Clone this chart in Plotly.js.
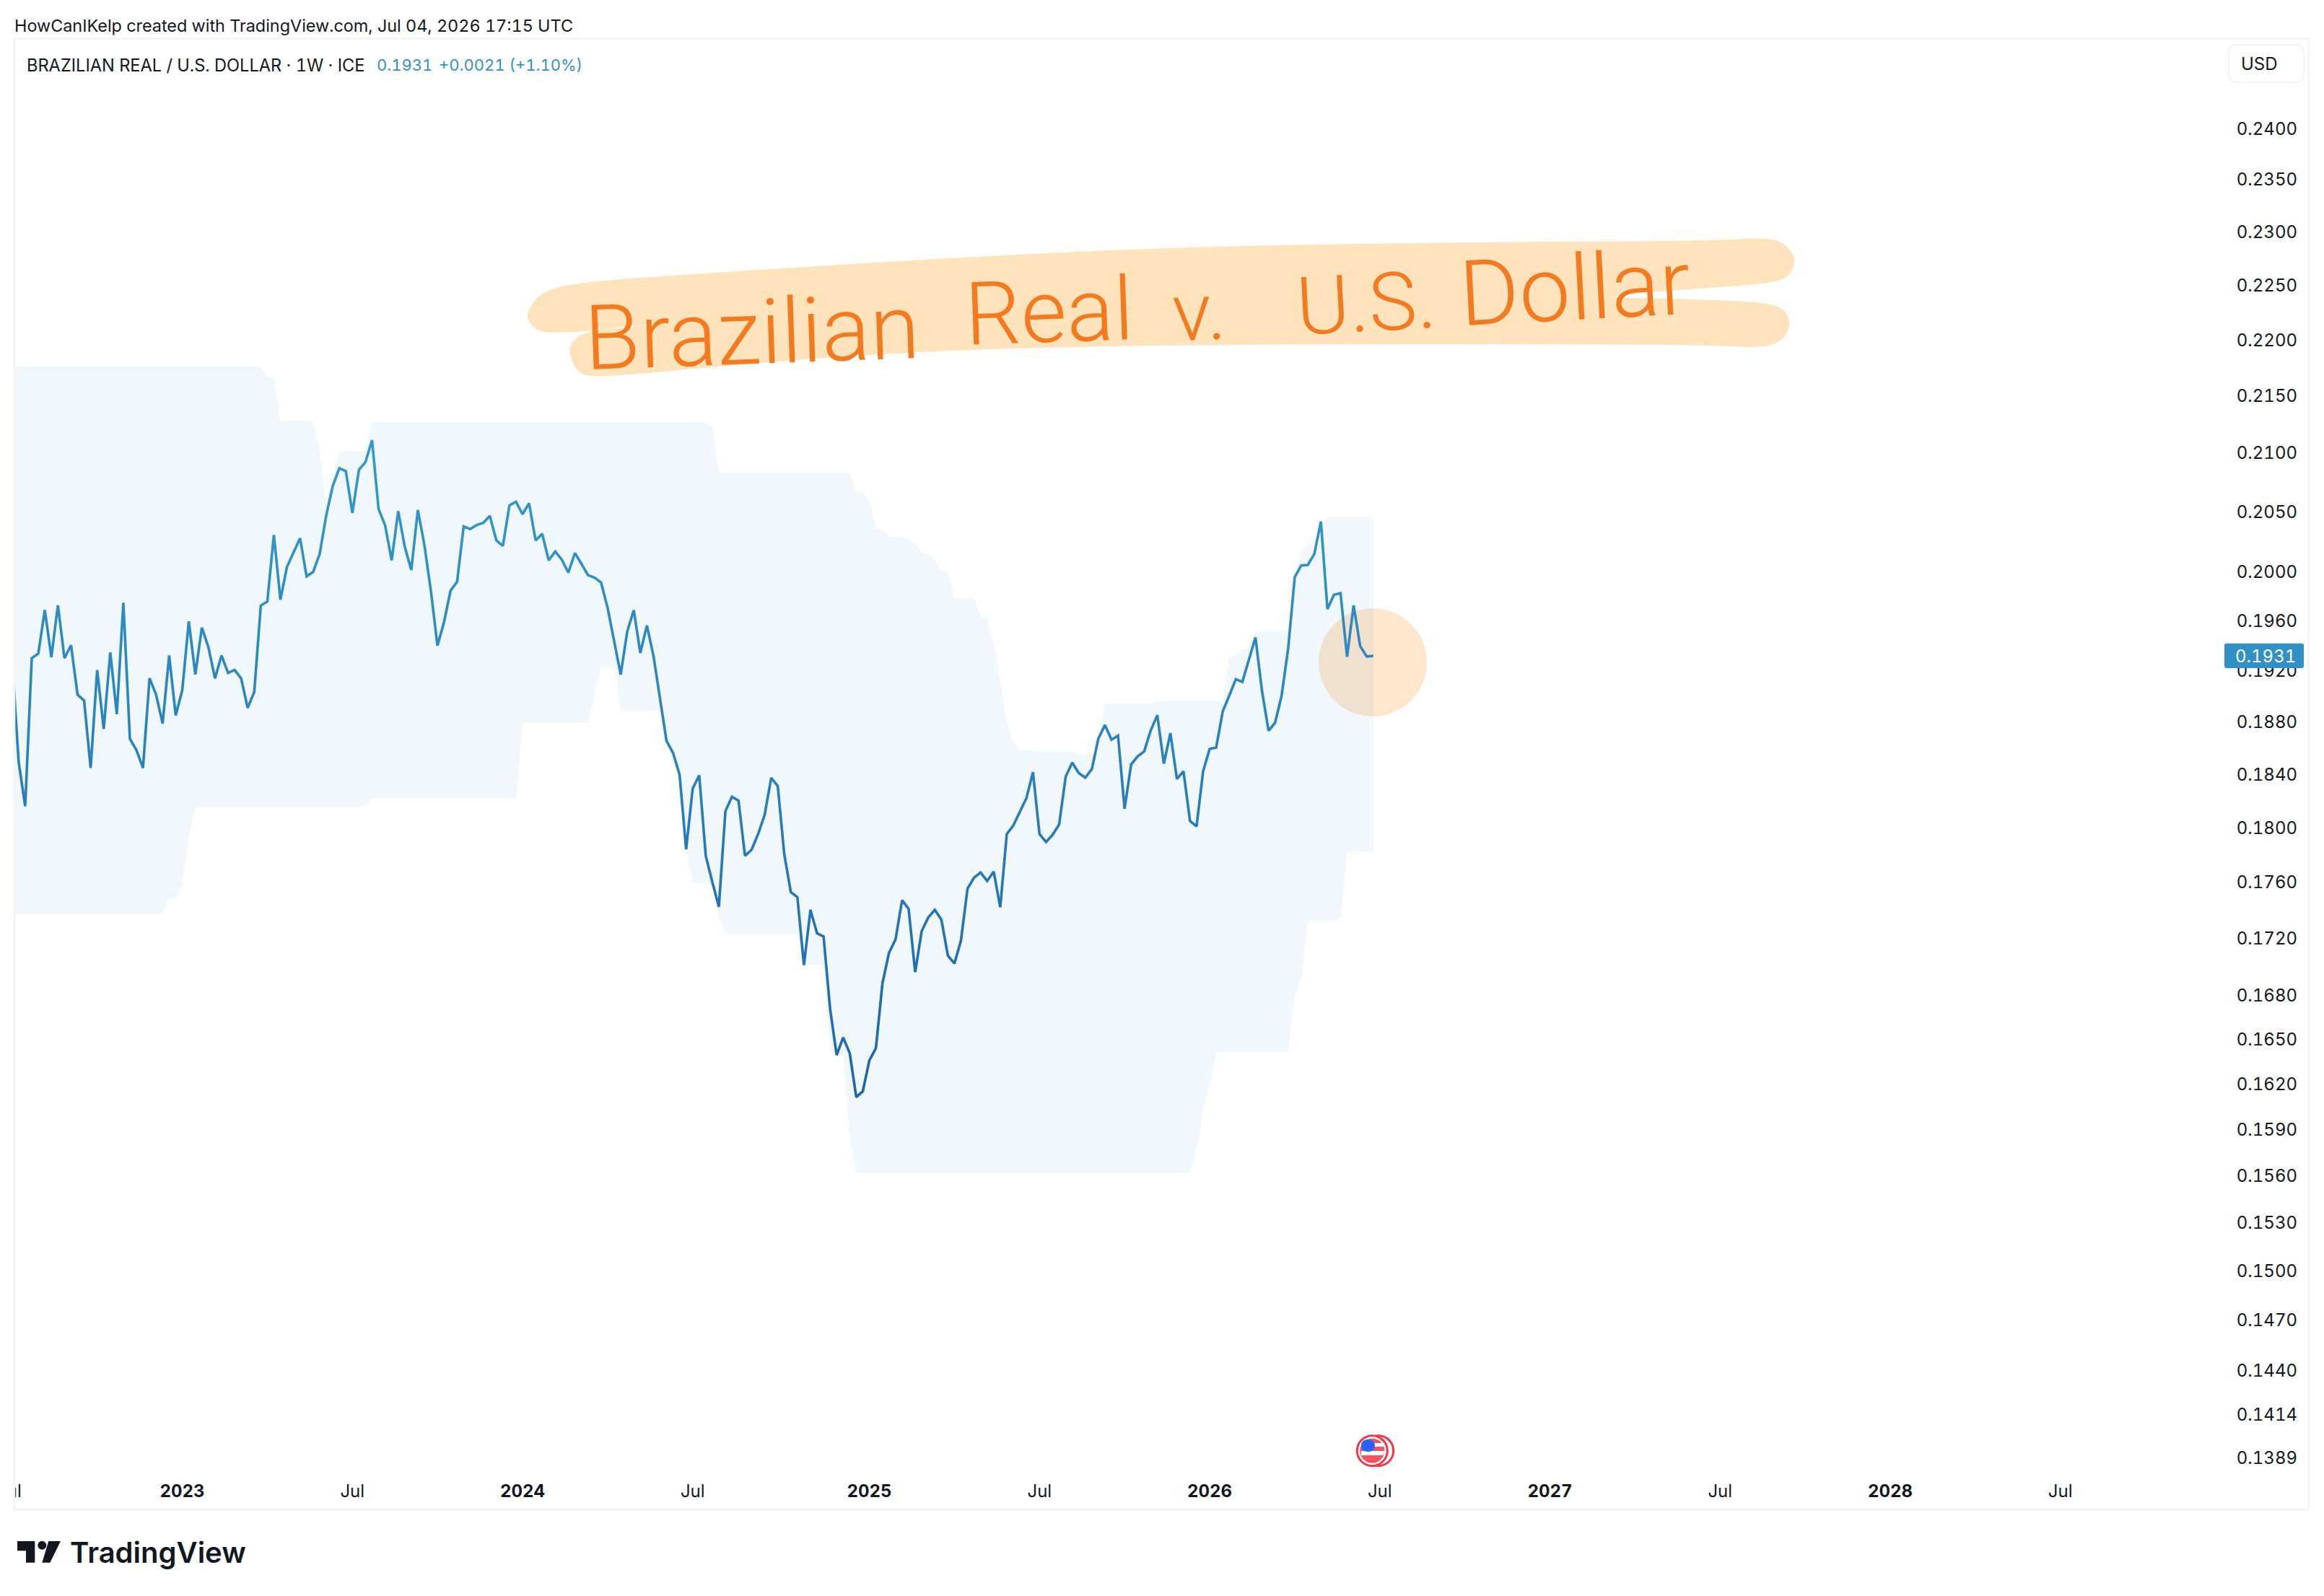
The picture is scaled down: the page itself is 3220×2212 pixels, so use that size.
<!DOCTYPE html>
<html><head><meta charset="utf-8">
<script src="https://cdn.plot.ly/plotly-3.0.1.min.js"></script>
<style>html,body{margin:0;padding:0;background:#fff}#c{width:3220px;height:2212px}
svg text{font-variant-numeric:tabular-nums;font-feature-settings:'tnum' 1}
.yaxislayer-above{transform:translateY(1.5px)}</style>
</head><body><div id="c"></div>
<script>
const firstWeek = '2022-07-04';
const closes = [0.19284,
0.18486,0.18152,0.19292,0.19329,0.19679,0.19300,0.19717,0.19292,0.19396,0.19005,0.18959,0.18441,0.19199,0.18739,0.19338,0.18853,0.19738,0.18663,0.18576,0.18441,
0.19135,0.19005,0.18780,0.19314,0.18844,0.19040,0.19587,0.19164,0.19537,0.19379,0.19133,0.19314,0.19176,0.19199,0.19133,0.18902,0.19026,0.19715,0.19747,0.20296,
0.19762,0.20030,0.20152,0.20269,0.19953,0.19989,0.20137,0.20459,0.20709,0.20860,0.20835,0.20480,0.20848,0.20914,0.21103,0.20514,0.20376,0.20085,0.20495,0.20198,
0.20005,0.20505,0.20213,0.19833,0.19393,0.19581,0.19836,0.19908,0.20367,0.20345,0.20379,0.20397,0.20456,0.20250,0.20205,
0.20545,0.20575,0.20469,0.20562,0.20250,0.20305,0.20085,0.20158,0.20090,0.19984,0.20145,0.20056,0.19963,0.19942,0.19902,0.19697,0.19423,0.19163,0.19506,0.19677,
0.19334,0.19554,0.19314,0.18984,0.18647,0.18555,0.18389,0.17834,0.18285,0.18385,0.17786,0.17595,0.17417,0.18115,0.18223,0.18194,0.17786,0.17830,0.17946,0.18089,
0.18366,0.18304,0.17797,0.17522,0.17486,0.17004,0.17395,0.17228,0.17206,0.16701,0.16386,0.16505,0.16399,0.16105,0.16144,0.16351,0.16433,0.16877,0.17090,0.17185,
0.17464,0.17402,0.16955,0.17243,0.17341,0.17395,0.17326,0.17071,0.17015,0.17178,0.17548,0.17627,
0.17664,0.17603,0.17671,0.17413,0.17946,0.18010,0.18113,0.18213,0.18409,0.17946,0.17887,0.17940,0.18017,0.18374,0.18481,0.18402,0.18367,0.18432,0.18666,0.18769,
0.18656,0.18687,0.18133,0.18467,0.18529,0.18567,0.18728,0.18846,0.18474,0.18707,0.18357,0.18415,0.18043,0.18003,0.18415,0.18585,0.18597,0.18875,0.18998,0.19126,
0.19105,0.19282,0.19458,0.19034,0.18725,0.18787,0.18998,0.19370,0.19946,0.20043,0.20047,0.20138,0.20408,0.19686,0.19803,0.19815,0.19303,0.19716,0.19389,0.19306,0.19310];

const upperWeek = [0,38,39,40,41,46,47,48,49,50,54,55,106,107,108,128,129,130,131,132,133,134,136,138,139,140,141,142,143,144,147,148,149,150,151,152,153,154,156,157,162,163,166,167,174,175,185,186,187,188,189,190,195,196,197,198,199,200,201,208];
const upperVal = [0.21753,0.21753,0.21655,0.21655,0.21274,0.21274,0.21009,0.20553,0.20739,0.21003,0.21003,0.21255,0.21255,0.21211,0.20819,0.20819,0.20653,0.20653,0.20575,0.20356,0.20335,0.20280,0.20280,0.20234,0.20145,0.20142,0.20082,0.19993,0.19993,0.19771,0.19771,0.19625,0.19625,0.19407,0.19122,0.18787,0.18632,0.18572,0.18572,0.18561,0.18561,0.18546,0.18546,0.18935,0.18935,0.18955,0.18955,0.19313,0.19313,0.19363,0.19370,0.19505,0.19505,0.19946,0.20168,0.20207,0.20207,0.20407,0.20446,0.20446];
const lowerWeek = [0,23,24,25,26,27,28,53,54,55,77,78,88,90,92,93,99,100,101,102,103,104,107,108,109,120,121,124,125,126,127,128,129,180,181,182,183,184,195,196,197,198,201,203,204,208];
const lowerVal = [0.17367,0.17367,0.17480,0.17480,0.17579,0.17934,0.18147,0.18147,0.18158,0.18214,0.18214,0.18786,0.18786,0.19227,0.19227,0.18877,0.18877,0.18640,0.18547,0.18381,0.17834,0.17587,0.17587,0.17341,0.17224,0.17224,0.17004,0.17004,0.16427,0.16399,0.16375,0.15840,0.15610,0.15610,0.15752,0.16033,0.16180,0.16404,0.16404,0.16793,0.16919,0.17315,0.17315,0.17331,0.17816,0.17816];

const priceTicks = [0.2400,0.2350,0.2300,0.2250,0.2200,0.2150,0.2100,0.2050,0.2000,0.1960,0.1920,0.1880,0.1840,0.1800,0.1760,0.1720,0.1680,0.1650,0.1620,0.1590,0.1560,0.1530,0.1500,0.1470,0.1440,0.1414,0.1389];
const timeTickDates = ['2022-07-01','2023-01-02','2023-07-03','2024-01-01','2024-07-01','2025-01-06','2025-07-07','2026-01-05','2026-07-06','2027-01-04','2027-07-05','2028-01-03','2028-07-03'];
const timeTickText = ['Jul','<b>2023</b>','Jul','<b>2024</b>','Jul','<b>2025</b>','Jul','<b>2026</b>','Jul','<b>2027</b>','Jul','<b>2028</b>','Jul'];

const lastPrice = 0.1931;

const weeks = closes.map((_, i) => {
  const d = new Date(firstWeek + 'T00:00:00Z');
  d.setUTCDate(d.getUTCDate() + 7 * i);
  return d.toISOString().slice(0, 10);
});

const W = 3220, H = 2212, L = 0, R = 135, T = 54, B = 169;
const pw = W - L - R, ph = H - T - B;
const X = p => (p - L) / pw, Y = p => 1 - (p - T) / ph;
const yRange = [-0.86038, -0.60398];
const ink = '#131722', sans = 'Inter, "Noto Sans", sans-serif', accent = '#3390c5';

const rrect = (x0, y0, x1, y1, r) =>
  `M${X(x0 + r)},${Y(y0)} L${X(x1 - r)},${Y(y0)} Q${X(x1)},${Y(y0)} ${X(x1)},${Y(y0 + r)} L${X(x1)},${Y(y1 - r)} Q${X(x1)},${Y(y1)} ${X(x1 - r)},${Y(y1)} L${X(x0 + r)},${Y(y1)} Q${X(x0)},${Y(y1)} ${X(x0)},${Y(y1 - r)} L${X(x0)},${Y(y0 + r)} Q${X(x0)},${Y(y0)} ${X(x0 + r)},${Y(y0)} Z`;
const poly = pts => 'M' + pts.map(p => `${X(p[0])},${Y(p[1])}`).join(' L') + ' Z';
const smooth = pts => {
  const mid = (a, b) => [(a[0] + b[0]) / 2, (a[1] + b[1]) / 2];
  let s = '', n = pts.length;
  const m0 = mid(pts[n - 1], pts[0]);
  s = `M${X(m0[0])},${Y(m0[1])}`;
  for (let i = 0; i < n; i++) {
    const m = mid(pts[i], pts[(i + 1) % n]);
    s += ` Q${X(pts[i][0])},${Y(pts[i][1])} ${X(m[0])},${Y(m[1])}`;
  }
  return s + ' Z';
};
const circle = (cx, cy, r, o) => Object.assign({type: 'circle', xref: 'paper', yref: 'paper',
  x0: X(cx - r), x1: X(cx + r), y0: Y(cy + r), y1: Y(cy - r), line: {width: 0}}, o);
const pathShape = (path, o) => Object.assign({type: 'path', xref: 'paper', yref: 'paper', path, line: {width: 0}}, o);

const banner = [[752,402],[815,390],[987,378],[1274,360],[1561,345],[1848,338],[2135,335],[2365,334],[2456,329],[2479,343],[2489,363],[2479,383],[2456,393],[2307,403],[2227,412],[2227,412],[2353,415],[2451,419],[2479,433],[2479,463],[2451,483],[2365,478],[2078,477],[1791,477],[1504,480],[1274,487],[1044,503],[818,525],[798,513],[788,490],[792,473],[815,457],[953,445],[953,445],[757,465],[734,450],[729,433]];

const shapes = [
  pathShape(smooth(banner), {fillcolor: '#fee3bd', layer: 'below'}),
  circle(1902, 918, 75, {fillcolor: 'rgba(252,195,127,0.4)', layer: 'below'}),
  {type: 'rect', xref: 'paper', yref: 'paper', x0: X(0), x1: X(19.5), y0: Y(2100), y1: Y(40), fillcolor: '#ffffff', line: {width: 0}, layer: 'above'},
  pathShape(`M${X(20)},${Y(53.5)} L${X(3199)},${Y(53.5)} L${X(3199)},${Y(2092)} L${X(20)},${Y(2092)} Z`, {line: {color: '#f2f3f4', width: 2.5}, layer: 'above'}),
  pathShape(rrect(3087.7, 61.7, 3192, 114, 12), {line: {color: '#f0f1f3', width: 1.5}, fillcolor: '#ffffff', layer: 'above'}),
  pathShape(rrect(3082, 891.7, 3192, 926, 3), {fillcolor: accent, layer: 'above'}),
  // calendar marker
  circle(1909.7, 2010.7, 21, {line: {color: '#f23645', width: 3}, fillcolor: '#ffffff', layer: 'above'}),
  circle(1901.3, 2010.7, 21, {line: {color: '#f23645', width: 3}, fillcolor: '#ffffff', layer: 'above'}),
  circle(1901.3, 2010.7, 17, {fillcolor: '#f7525f', layer: 'above'}),
  pathShape(poly([[1886,2011],[1918,2011],[1917,2017],[1886,2017]]), {fillcolor: '#ffffff', layer: 'above'}),
  pathShape(poly([[1902,2000],[1917,2000],[1918,2005],[1902,2005]]), {fillcolor: '#ffffff', layer: 'above'}),
  pathShape(smooth([[1886,2012],[1886,1995],[1905,1995],[1905,2012]]), {fillcolor: '#2962ff', layer: 'above'}),
  // TradingView logo
  pathShape(poly([[24,2136],[48.3,2136],[48.3,2165.7],[36,2165.7],[36,2149.3],[24,2149.3]]), {fillcolor: ink, layer: 'above'}),
  circle(58.3, 2141.7, 6, {fillcolor: ink, layer: 'above'}),
  pathShape(poly([[67.3,2136],[84,2136],[69.3,2165.7],[58.3,2165.7]]), {fillcolor: ink, layer: 'above'})
];

const note = (text, x, y, size, color, o) => Object.assign({xref: 'paper', yref: 'paper', x: X(x), y: Y(y), text,
  xanchor: 'left', yanchor: 'middle', showarrow: false, font: {family: sans, size, color}, borderpad: 0, borderwidth: 0}, o);
const hand = 'Roboto, "Liberation Sans", sans-serif', orange = '#f47a20';
const hw = (text, x, y, size, angle) => ({xref: 'paper', yref: 'paper', x: X(x), y: Y(y), text, xanchor: 'left', yanchor: 'middle',
  showarrow: false, textangle: angle, font: {family: hand, size, color: orange, weight: 300}, borderpad: 0, borderwidth: 0});

const annotations = [
  note('HowCanIKelp created with TradingView.com, Jul 04, 2026 17:15 UTC', 20, 35, 23.4, ink),
  note('BRAZILIAN REAL / U.S. DOLLAR · 1W · ICE', 36.5, 90, 23.6, ink),
  note('0.1931', 522, 90, 22, accent),
  note('+0.0021 (+1.10%)', 608, 90, 22, accent),
  note('USD', 3105, 88, 24, ink),
  {xref: 'paper', yref: 'y', x: X(3097), y: Math.log10(lastPrice), text: lastPrice.toFixed(4), xanchor: 'left', yanchor: 'middle',
   showarrow: false, font: {family: sans, size: 24, color: '#ffffff'}, borderpad: 0, borderwidth: 0},
  note('TradingView', 97, 2151, 40, ink, {font: {family: sans, size: 40, color: ink, weight: 600}}),
  hw('Brazilian', 808, 462, 125, -2),
  hw('Real', 1335, 432, 122, -2),
  hw('v.', 1622, 432, 112, -2),
  hw('U.S.', 1793, 420, 112, -3),
  hw('Dollar', 2018, 400, 126, -3)
];

const data = [
  {type: 'scatter', mode: 'lines', name: 'Range band',
   x: upperWeek.map(i => weeks[i]).concat(lowerWeek.map(i => weeks[i]).reverse()),
   y: upperVal.concat(lowerVal.slice().reverse()),
   fill: 'toself', fillcolor: 'rgba(33,150,243,0.065)', line: {width: 0}, hoverinfo: 'skip', showlegend: false},
  {type: 'scatter', mode: 'lines', name: 'BRL/USD',
   x: weeks, y: closes, line: {color: accent, width: 3.6, shape: 'linear'}, hoverinfo: 'skip', showlegend: false}
];

const layout = {
  width: W, height: H, autosize: false,
  margin: {l: L, r: R, t: T, b: B, pad: 0},
  paper_bgcolor: '#ffffff', plot_bgcolor: 'rgba(0,0,0,0)',
  showlegend: false, hovermode: false,
  font: {family: sans, color: ink, size: 24},
  xaxis: {type: 'date', range: ['2022-06-21 01:00', '2028-12-27 19:00'], tickmode: 'array', tickvals: timeTickDates, ticktext: timeTickText,
    showgrid: false, zeroline: false, showline: false, ticks: 'outside', ticklen: 2, tickcolor: 'rgba(0,0,0,0)', tickangle: 0,
    ticklabeloverflow: 'allow', tickfont: {family: sans, size: 24, color: ink}, automargin: false},
  yaxis: {type: 'log', side: 'right', range: yRange, tickmode: 'array', tickvals: priceTicks, ticktext: priceTicks.map(v => v.toFixed(4)),
    showgrid: false, zeroline: false, showline: false, ticks: 'outside', ticklen: 8, tickcolor: 'rgba(0,0,0,0)',
    tickfont: {family: sans, size: 24, color: ink}, automargin: false},
  shapes, annotations
};

Plotly.newPlot('c', data, layout, {displayModeBar: false, staticPlot: true}).then(gd => {
  const py = p => (yRange[1] - Math.log10(p)) / (yRange[1] - yRange[0]) * ph;
  const svg = gd.querySelector('.main-svg');
  const ns = 'http://www.w3.org/2000/svg';
  let defs = svg.querySelector('defs');
  const g = document.createElementNS(ns, 'linearGradient');
  g.setAttribute('id', 'lineGrad');
  g.setAttribute('gradientUnits', 'userSpaceOnUse');
  g.setAttribute('x1', 0); g.setAttribute('x2', 0);
  g.setAttribute('y1', py(0.2100)); g.setAttribute('y2', py(0.1610));
  [['0', '#3399c8'], ['1', '#1e65b0']].forEach(s => {
    const st = document.createElementNS(ns, 'stop');
    st.setAttribute('offset', s[0]); st.setAttribute('stop-color', s[1]);
    g.appendChild(st);
  });
  defs.appendChild(g);
  const traces = gd.querySelectorAll('.scatterlayer .trace');
  const path = traces[1].querySelector('.lines path');
  if (path) path.style.stroke = 'url(#lineGrad)';
});
</script></body></html>
